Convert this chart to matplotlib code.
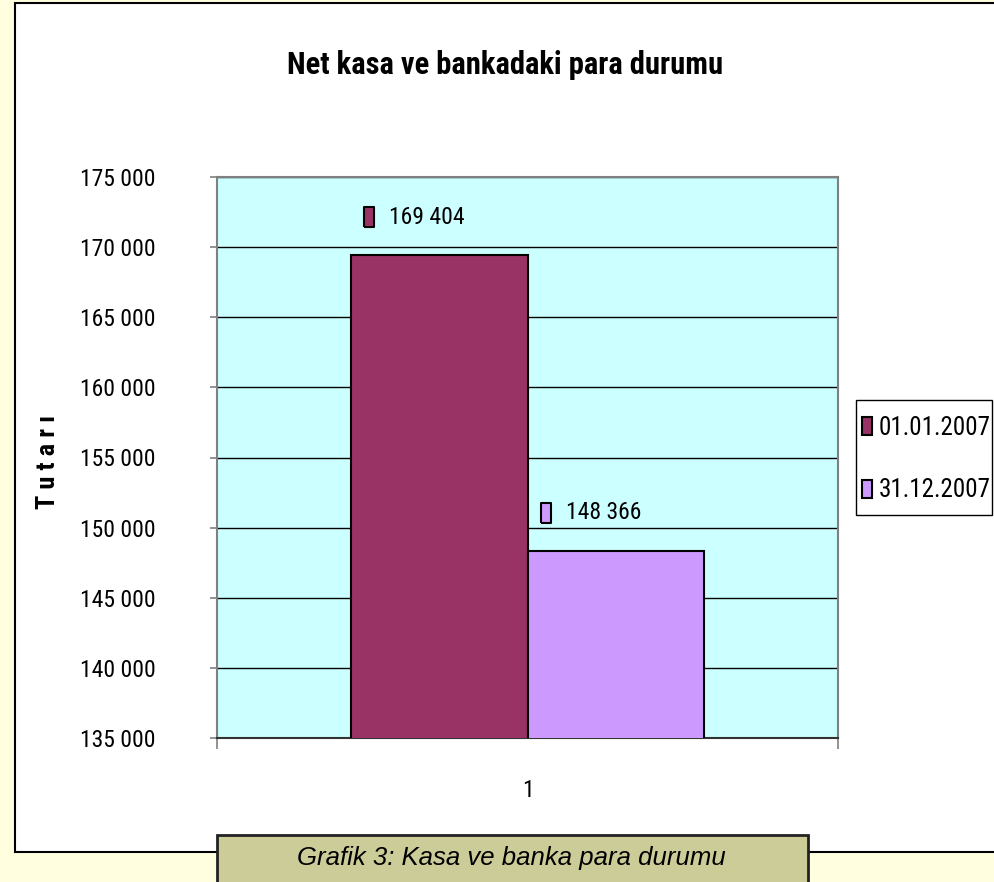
import numpy as np
import matplotlib
matplotlib.use('Agg')
import matplotlib.pyplot as plt
from matplotlib import font_manager
from matplotlib.patches import Rectangle
from matplotlib.transforms import offset_copy

# data
categories = ['1']
series_names = ['01.01.2007', '31.12.2007']
series_values = [169404, 148366]
series_colors = ['#993366', '#CC99FF']
y_ticks = [135000, 140000, 145000, 150000, 155000, 160000, 165000, 170000, 175000]

names = {f.name for f in font_manager.fontManager.ttflist}
narrow = 'Roboto Condensed' if 'Roboto Condensed' in names else 'Liberation Sans'
plt.rcParams['font.family'] = [narrow, 'DejaVu Sans']

# tall thin box used as legend key next to the data labels
key_marker = [(-0.27, -0.5), (0.27, -0.5), (0.27, 0.5), (-0.27, 0.5), (-0.27, -0.5)]


def fmt(v):
    return f"{v:,}".replace(',', ' ')


fig = plt.figure(figsize=(9.94, 8.82), dpi=100)
fig.patch.set_facecolor('#FFFFE0')

# white chart frame and caption box
fig.add_artist(Rectangle((15 / 994, 30 / 882), 1.0, 849 / 882, transform=fig.transFigure,
                         facecolor='white', edgecolor='black', lw=1.5, zorder=0))
fig.add_artist(Rectangle((217 / 994, -0.02), 591 / 994, 47 / 882 + 0.02, transform=fig.transFigure,
                         facecolor='#CCCC99', edgecolor='#222222', lw=2, zorder=1))
fig.text(511 / 994, (882 - 858) / 882, 'Grafik 3: Kasa ve banka para durumu', ha='center', va='center',
         fontsize=18.5, style='italic', family=['Liberation Sans', 'DejaVu Sans'])

ax = fig.add_axes([217 / 994, 144 / 882, 621 / 994, 561 / 882])
ax.set_facecolor('#CCFFFF')

width = 0.285
offsets = [-width / 2, width / 2]
x0 = np.arange(len(categories))
bars = []
for name, val, col, off in zip(series_names, series_values, series_colors, offsets):
    b = ax.bar(x0 + off, [val], width=width, color=col, edgecolor='black', lw=1.5, label=name, zorder=3)
    bars.append(b)

ax.set_xlim(-0.5, 0.5)
ax.set_ylim(y_ticks[0], y_ticks[-1])
ax.set_yticks(y_ticks)
ax.set_yticklabels([fmt(t) for t in y_ticks], fontsize=17)
ax.yaxis.grid(True, color='black', lw=1)
ax.set_axisbelow(True)
ax.set_xticks([-0.5, 0.5])
ax.set_xticklabels(['', ''])
ax.tick_params(axis='x', length=8, color='#808080', width=1.2)
ax.tick_params(axis='y', length=5, color='#808080', width=1.2, pad=39)
ax.text(0.5, -0.093, categories[0], transform=ax.transAxes, ha='center', va='center', fontsize=17)
for s in ax.spines.values():
    s.set_color('#808080')
    s.set_linewidth(1.5)
ax.spines['bottom'].set_color('#333333')

# data labels with legend keys
for b, col, val in zip(bars, series_colors, series_values):
    xc = b[0].get_x() + b[0].get_width() / 2
    tk = offset_copy(ax.transData, fig=fig, x=-70, y=38, units='dots')
    ax.plot([xc], [val], marker=key_marker, ms=14, mfc=col, mec='black', mew=1.5, transform=tk,
            clip_on=False, zorder=5, ls='none')
    tt = offset_copy(ax.transData, fig=fig, x=-50, y=38, units='dots')
    ax.text(xc, val, fmt(val), transform=tt, ha='left', va='center', fontsize=17, zorder=5)

fig.text(505 / 994, (882 - 65) / 882, 'Net kasa ve bankadaki para durumu', ha='center', va='center',
         fontsize=22, fontweight='bold')
fig.text(48 / 994, (882 - 462) / 882, 'T u t a r ı', ha='center', va='center', rotation=90,
         fontsize=19, fontweight='bold')

# legend
fig.add_artist(Rectangle((856 / 994, (882 - 515) / 882), 136 / 994, 115 / 882, transform=fig.transFigure,
                         facecolor='white', edgecolor='black', lw=1.0, zorder=2))
leg = fig.legend(handles=[b[0] for b in bars], labels=series_names, loc='center left',
                 bbox_to_anchor=(862 / 994, (882 - 459) / 882), fontsize=18, frameon=False,
                 handlelength=0.4, handleheight=0.75, handletextpad=0.25, labelspacing=1.55,
                 borderpad=0, borderaxespad=0)
leg.set_zorder(3)

fig.savefig('out.png', dpi=100, facecolor=fig.get_facecolor())
